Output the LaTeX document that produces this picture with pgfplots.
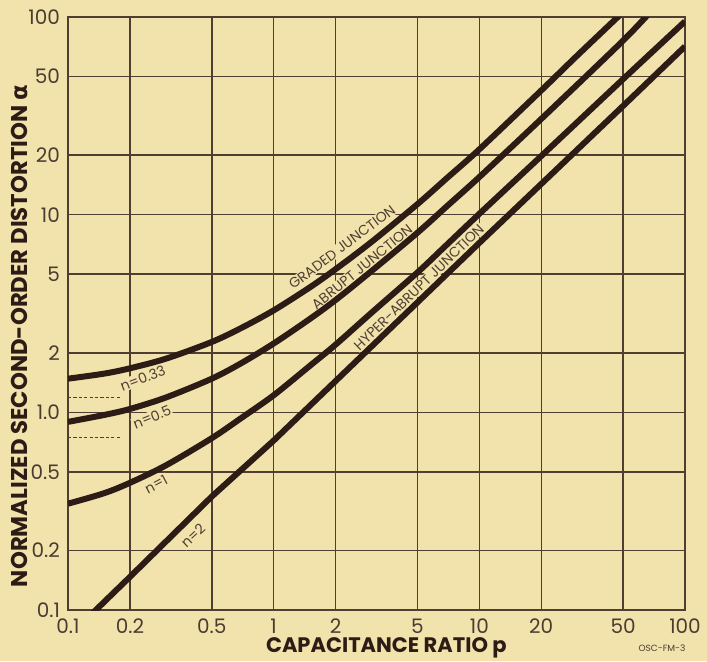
\documentclass[border=0pt]{standalone}
\usepackage{pgfplots}
\pgfplotsset{compat=1.18}
\usepackage{fontspec}
\setmainfont{Poppins}
\newfontfamily\greekfont{DejaVu Sans}
\definecolor{paper}{RGB}{242,226,172}
\definecolor{ink}{RGB}{45,28,22}
\definecolor{gridc}{RGB}{80,62,50}
\definecolor{tickc}{RGB}{75,60,50}

% curves (p, alpha)
\pgfplotstableread{
p alpha
0.1 1.48
0.15 1.57
0.2 1.67
0.3 1.87
0.5 2.27
0.7 2.68
1 3.28
1.5 4.29
2 5.3
3 7.3
5 11.3
7 15.4
10 21.4
20 42.5
30 64
50 106
}\graded
\pgfplotstableread{
p alpha
0.1 0.895
0.15 0.97
0.2 1.04
0.3 1.19
0.5 1.48
0.7 1.78
1 2.23
1.5 2.97
2 3.7
3 5.2
5 8.1
7 11.1
10 15.5
20 30.5
50 76
70 110
}\abrupt
\pgfplotstableread{
p alpha
0.1 0.345
0.15 0.39
0.2 0.44
0.3 0.54
0.5 0.74
0.7 0.94
1 1.22
1.5 1.72
2 2.2
3 3.2
5 5.1
7 7.1
10 10.1
20 19.8
50 48.5
100 95
}\hypone
\pgfplotstableread{
p alpha
0.1 0.073
0.2 0.147
0.5 0.375
1 0.72
2 1.44
5 3.6
10 7.2
20 14.3
50 35.5
100 71
}\hyptwo

\begin{document}
\begin{tikzpicture}[x=1pt,y=1pt]
\fill[paper] (0,0) rectangle (353.5,330.5);
\path[use as bounding box] (0,0) rectangle (353.5,330.5);
\begin{axis}[
  at={(34pt,25.5pt)}, anchor=south west,
  scale only axis, width=308.5pt, height=296.5pt,
  xmode=log, ymode=log,
  xmin=0.1, xmax=100, ymin=0.1, ymax=100,
  xtick={0.1,0.2,0.5,1,2,5,10,20,50,100},
  xticklabels={0.1,0.2,0.5,1,2,5,10,20,50,100},
  ytick={0.1,0.2,0.5,1,2,5,10,20,50,100},
  yticklabels={0.1,0.2,0.5,1.0,2,5,10,20,50,100},
  grid=major, major grid style={draw=gridc, line width=0.75pt},
  axis line style={draw=gridc, line width=0.8pt},
  major tick length=0pt, minor tick length=0pt,
  tick label style={font=\fontsize{10}{10}\selectfont, text=tickc},
  xticklabel style={yshift=-1pt},
  yticklabel style={xshift=-0.5pt},
  xlabel={CAPACITANCE RATIO p},
  ylabel={NORMALIZED SECOND-ORDER DISTORTION {\greekfont\bfseries α}},
  xlabel style={font=\bfseries\fontsize{10.5}{10.5}\selectfont, text=ink,
    at={(axis description cs:0.516,-0.064)}, anchor=center},
  ylabel style={font=\bfseries\fontsize{11.4}{11.4}\selectfont, text=ink,
    at={(axis description cs:-0.078,0.462)}, anchor=center},
  every axis plot/.append style={ink, line width=3pt, line join=round},
]
% labels first so curves lie on top
\begin{scope}[every node/.style={font=\fontsize{7}{7}\selectfont, text=gridc, fill=paper, inner sep=0.5pt}]
\node[rotate=37] at (axis cs:2.15,6.86) {GRADED JUNCTION};
\node[rotate=39] at (axis cs:2.69,5.43) {ABRUPT JUNCTION};
\node[rotate=44] at (axis cs:5.08,4.30) {HYPER-ABRUPT JUNCTION};
\node[rotate=21] at (axis cs:0.231,1.49) {n=0.33};
\node[rotate=22] at (axis cs:0.256,0.946) {n=0.5};
\node[rotate=28] at (axis cs:0.268,0.434) {n=1};
\node[rotate=43] at (axis cs:0.405,0.237) {n=2};
\end{scope}
\addplot[gridc, line width=0.6pt, dash pattern=on 1.6pt off 1.1pt] coordinates {(0.1,1.19) (0.183,1.19)};
\addplot[gridc, line width=0.6pt, dash pattern=on 1.6pt off 1.1pt] coordinates {(0.1,0.745) (0.183,0.745)};
\addplot[smooth, tension=0.5] table[x=p, y=alpha] {\graded};
\addplot[smooth, tension=0.5] table[x=p, y=alpha] {\abrupt};
\addplot[smooth, tension=0.5] table[x=p, y=alpha] {\hypone};
\addplot[sharp plot] table[x=p, y=alpha] {\hyptwo};
\end{axis}
\node[font=\fontsize{4.5}{4.5}\selectfont, text=tickc] at (331,6.5) {OSC-FM-3};
\end{tikzpicture}
\end{document}
